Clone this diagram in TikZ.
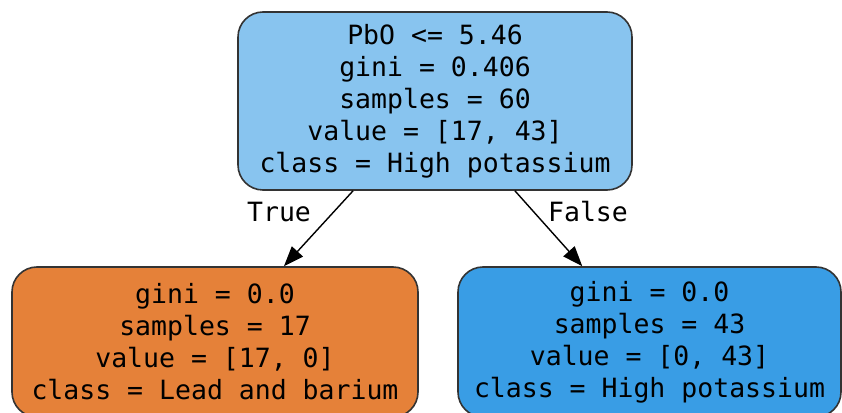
\documentclass[tikz,border=0pt]{standalone}
\usepackage{fontspec}
\setmonofont{DejaVu Sans Mono}
\usepackage{tikz}
\usetikzlibrary{arrows.meta}

\definecolor{rootblue}{HTML}{88C4EF}
\definecolor{leafblue}{HTML}{399DE5}
\definecolor{leaforange}{HTML}{E58139}
\definecolor{edgegray}{HTML}{333333}

\begin{document}
\begin{tikzpicture}[x=1pt,y=1pt,>={Triangle[length=20pt,width=15pt]},
  treenode/.style={draw=edgegray,line width=1.6pt,rounded corners=25pt,align=center,
    font=\ttfamily\fontsize{26.5}{32}\selectfont,inner sep=0pt},
  edgelabel/.style={font=\ttfamily\fontsize{26.5}{32}\selectfont,inner sep=0pt}]
  \useasboundingbox (0,0) rectangle (842,412);
  \node[treenode,fill=rootblue,minimum width=394,minimum height=178] (root) at (435,311)
    {PbO <= 5.46\\gini = 0.406\\samples = 60\\value = [17, 43]\\class = High potassium};
  \node[treenode,fill=leaforange,minimum width=406,minimum height=150] (lead) at (215,70)
    {gini = 0.0\\samples = 17\\value = [17, 0]\\class = Lead and barium};
  \node[treenode,fill=leafblue,minimum width=383,minimum height=150] (high) at (649.5,70)
    {gini = 0.0\\samples = 43\\value = [0, 43]\\class = High potassium};
  \draw[->, line width=1.4pt] (root) -- (lead);
  \draw[->, line width=1.4pt] (root) -- (high);
  \node[edgelabel] (truelbl) at (279,200) {True};
  \node[edgelabel] (falselbl) at (588,200) {False};
\end{tikzpicture}
\end{document}
